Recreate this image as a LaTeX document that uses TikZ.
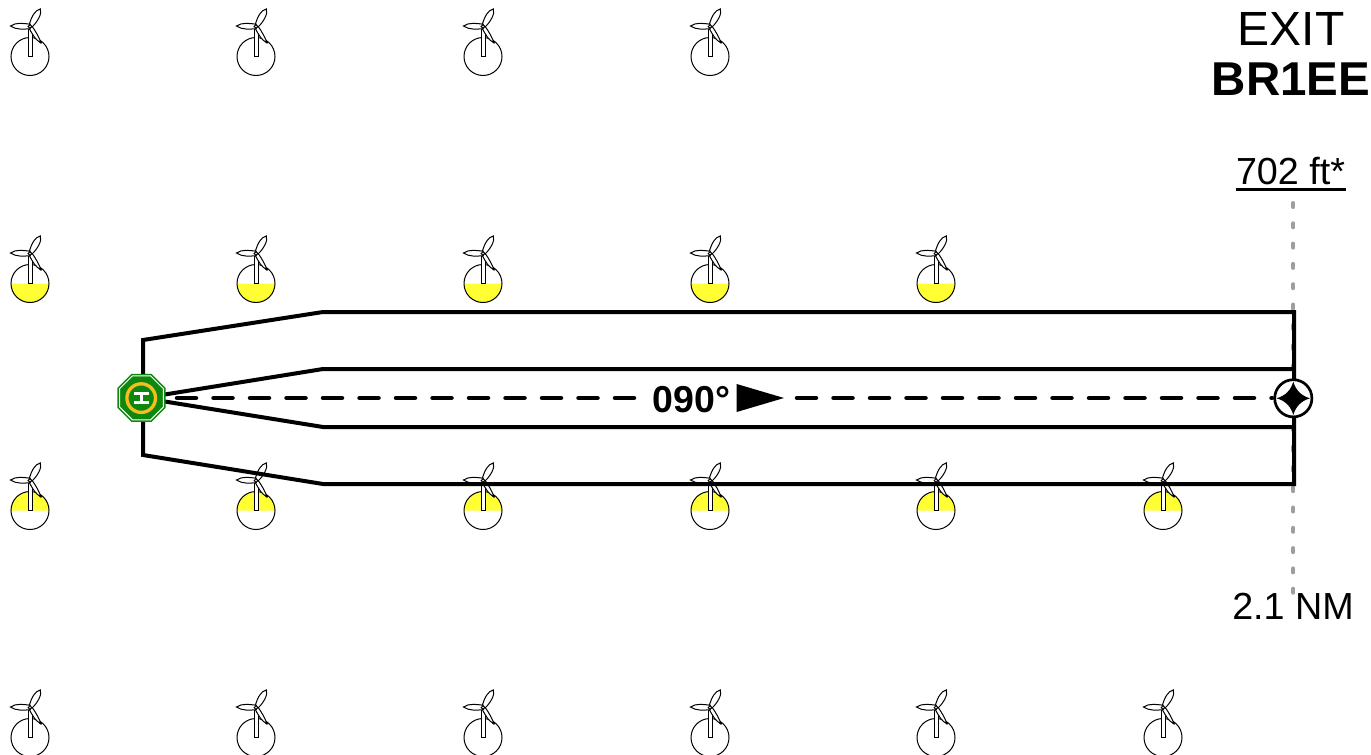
\documentclass[tikz,border=0pt]{standalone}
\usepackage{fontspec}
\setmainfont{Liberation Sans}
\newcommand{\turbine}[3]{% x, y, fill mode: 0 none, 1 lower, 2 upper
  \begin{scope}[shift={(#1,#2)}]
    \ifnum#3=1
      \fill[ygold] (-19,0) arc[start angle=180,end angle=0,radius=19] -- cycle;
    \fi
    \ifnum#3=2
      \fill[ygold] (-19,0) arc[start angle=180,end angle=360,radius=19] -- cycle;
    \fi
    \draw[tline] (0,0) circle[radius=19];
    \draw[tline,fill=white] (-2,0) -- (-2,-30) -- (2,-30) -- (2,0) -- cycle;
    \draw[tline,fill=white] (1.5,-31) .. controls (6,-25) and (9.5,-18) .. (11,-14) .. controls (6,-15.5) and (2.5,-22) .. (-1,-28.5) -- cycle;
    \draw[tline,fill=white] (-1,-31) .. controls (1.5,-40) and (5,-46.5) .. (10.3,-47.5) .. controls (12.5,-43) and (7,-34) .. (2,-29.5) -- cycle;
    \draw[tline,fill=white] (0,-32.3) .. controls (-6,-33) and (-14,-34.5) .. (-19.5,-30.5) .. controls (-14,-26.5) and (-6,-27.3) .. (0,-27.8) -- cycle;
    \fill[black] (10.5,-14.5) circle[radius=1.5];
    \draw[tline,fill=white] (0,-30) circle[radius=1.8];
  \end{scope}
}
\begin{document}
\begin{tikzpicture}[x=1pt,y=-1pt,
  tline/.style={draw=black,line width=1pt},
  legline/.style={draw=black,line width=4pt,line join=miter},
  courseline/.style={draw=black,line width=4.5pt,line cap=round,dash pattern=on 19pt off 17.5pt},
  limitline/.style={draw=black!38,line width=4pt,line cap=round,dash pattern=on 4pt off 16.3pt},
  txt/.style={inner sep=0pt,outer sep=0pt,anchor=base,text=black}]
\definecolor{ygold}{RGB}{255,255,51}
\definecolor{padgreen}{RGB}{15,135,15}
\definecolor{padring}{RGB}{245,190,30}
\useasboundingbox (0,0) rectangle (1371,755);
\fill[white] (0,0) rectangle (1371,755);
\foreach \x in {30,256,483,710}{\turbine{\x}{56.5}{0}}
\foreach \x in {30,256,483,710,936}{\turbine{\x}{283.5}{1}}
\foreach \x in {30,256,483,710,936,1163}{\turbine{\x}{510.5}{2}}
\foreach \x in {30,256,483,710,936,1163}{\turbine{\x}{737.5}{0}}
\coordinate (ltop) at (1293.3,203);
\coordinate (lbot) at (1293.3,600);
\draw[limitline] (ltop) -- (lbot);
\coordinate (oa) at (143,340);
\coordinate (ob) at (323,312);
\coordinate (oc) at (1294,312);
\coordinate (od) at (1294,484);
\coordinate (oe) at (323,484);
\coordinate (of) at (143,455);
\coordinate (ia) at (143,398);
\coordinate (ib) at (323,369);
\coordinate (ic) at (1294,369);
\coordinate (id) at (1294,427);
\coordinate (ie) at (323,427);
\draw[legline] (oa) -- (ob) -- (oc) -- (od) -- (oe) -- (of) -- cycle;
\draw[legline] (ia) -- (ib) -- (ic);
\draw[legline] (ia) -- (ie) -- (id);
\coordinate (cs) at (160,398);
\coordinate (cm) at (634,398);
\coordinate (cn) at (797,398);
\coordinate (ce) at (1272,398);
\draw[courseline] (cn) -- (ce);
\draw[courseline] (cm) -- (cs);
\node[txt,font=\bfseries\fontsize{37.5}{37.5}\selectfont] (crs) at (691.5,412) {090°};
\fill[black] (736.7,384) -- (784,398) -- (736.7,412) -- cycle;
% helipad
\begin{scope}[shift={(141.5,397.8)}]
  \fill[padgreen] (22.5:26) -- (67.5:26) -- (112.5:26) -- (157.5:26) -- (202.5:26) -- (247.5:26) -- (292.5:26) -- (337.5:26) -- cycle;
  \draw[white,line width=1pt] (22.5:23.8) -- (67.5:23.8) -- (112.5:23.8) -- (157.5:23.8) -- (202.5:23.8) -- (247.5:23.8) -- (292.5:23.8) -- (337.5:23.8) -- cycle;
  \draw[padring,line width=3.3pt] (-0.3,0.3) circle[radius=14.3];
  \fill[white] (-8,-5.8) rectangle (7.5,-3);
  \fill[white] (-8,3.4) rectangle (7.5,6);
  \fill[white] (-2,-5.8) rectangle (1,6);
\end{scope}
% fix
\node[circle,draw=black,fill=white,line width=2.7pt,minimum size=37.2pt,inner sep=0pt] (fix) at (1293.3,398.3) {};
\begin{scope}[shift={(fix.center)}]
\fill[black] (0,-16.7) .. controls (2.5,-8) and (8,-2.5) .. (16.7,0)
  .. controls (8,2.5) and (2.5,8) .. (0,16.7)
  .. controls (-2.5,8) and (-8,2.5) .. (-16.7,0)
  .. controls (-8,-2.5) and (-2.5,-8) .. (0,-16.7) -- cycle;
\end{scope}
\node[txt,font=\fontsize{48}{48}\selectfont] (ex) at (1291,45.5) {EXIT};
\node[txt,font=\bfseries\fontsize{47.5}{48}\selectfont] (br) at (1291,95) {BR1EE};
\node[txt,font=\fontsize{37.7}{37}\selectfont] (alt) at (1290.5,184) {702 ft*};
\draw[black,line width=2.7pt] (1236,189.3) -- (1346,189.3);
\node[txt,font=\fontsize{37.7}{37}\selectfont] (dist) at (1293,619) {2.1 NM};
\end{tikzpicture}
\end{document}
